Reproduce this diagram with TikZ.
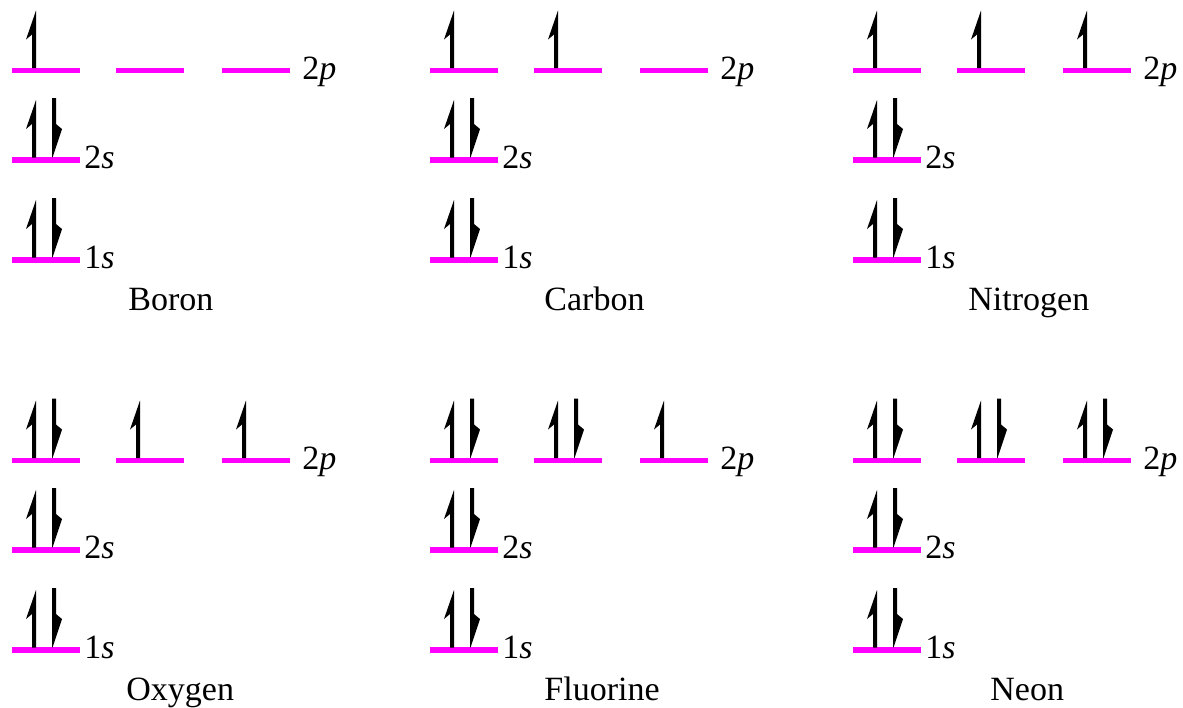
\documentclass[tikz,border=0pt]{standalone}
\usepackage{fontspec}
\setmainfont{Liberation Serif}
\newfontfamily\timesfont{Liberation Serif}
\definecolor{mag}{RGB}{255,0,255}
\tikzset{
  level/.style={draw=mag,line width=2.75pt},
  spin/.style={fill=black},
  lbl/.style={font=\timesfont\fontsize{17}{20}\selectfont,inner sep=0pt,anchor=base west},
}
\newcommand\upspin[2]{%
  \fill[spin] (#1,#2-2.5) -- (#1+4,#2-2.5) -- (#1+4,#2-60) -- (#1-6,#2-31) -- (#1,#2-36) -- cycle;}
\newcommand\downspin[2]{%
  \fill[spin] (#1,#2-62) -- (#1+4,#2-62) -- (#1+4,#2-36) -- (#1+10,#2-31) -- (#1+0.5,#2-2.5) -- (#1,#2-2.5) -- cycle;}
\newcommand\orbital[3]{%
  \draw[level] (#1,#2) -- (#1+68,#2);
  \ifnum#3>0 \upspin{#1+20}{#2}\fi
  \ifnum#3>1 \downspin{#1+40}{#2}\fi}
\begin{document}
\begin{tikzpicture}[x=0.5pt,y=-0.5pt]
\useasboundingbox (0,0) rectangle (1183,707);
\foreach \cx/\ry/\a/\b/\c/\name/\nx/\id in {
   0/0/1/0/0/Boron/128/B, 418/0/1/1/0/Carbon/544/C, 841/0/1/1/1/Nitrogen/968/N,
   0/390/2/1/1/Oxygen/126/O, 418/390/2/2/1/Fluorine/544/F, 841/390/2/2/2/Neon/990/Ne}{
  \pgfmathsetmacro\X{12+\cx}
  \pgfmathsetmacro\Xb{116+\cx}
  \pgfmathsetmacro\Xc{222+\cx}
  \pgfmathsetmacro\Lp{70.5+\ry}
  \pgfmathsetmacro\Ls{160+\ry}
  \pgfmathsetmacro\Lo{260+\ry}
  \orbital{\X}{\Lp}{\a}
  \orbital{\Xb}{\Lp}{\b}
  \orbital{\Xc}{\Lp}{\c}
  \orbital{\X}{\Ls}{2}
  \orbital{\X}{\Lo}{2}
  \node[lbl] (p\id) at (302+\cx,\Lp+9) {2\textit{p}};
  \node[lbl] (s\id) at (84+\cx,\Ls+8) {2\textit{s}};
  \node[lbl] (o\id) at (84+\cx,\Lo+8) {1\textit{s}};
  \node[lbl] (n\id) at (\nx,310+\ry) {\name};
}
\end{tikzpicture}
\end{document}
